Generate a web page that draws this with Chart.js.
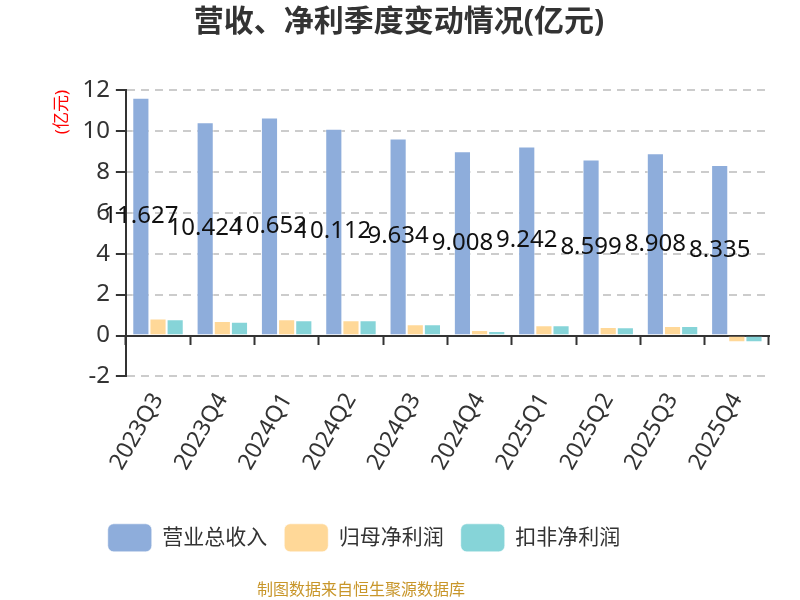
<!DOCTYPE html>
<html>
<head>
<meta charset="utf-8">
<script src="https://cdn.jsdelivr.net/npm/chart.js@4/dist/chart.umd.min.js"></script>
<style>
  html, body { margin: 0; padding: 0; background: #fff; }
  #wrap { width: 800px; height: 600px; }
</style>
</head>
<body>
<div id="wrap"><canvas id="chart"></canvas></div>
<script>
/* ── Data ── */
const quarters   = ['2023Q3', '2023Q4', '2024Q1', '2024Q2', '2024Q3', '2024Q4', '2025Q1', '2025Q2', '2025Q3', '2025Q4'];
const revenue    = [11.627, 10.424, 10.652, 10.112, 9.634, 9.008, 9.242, 8.599, 8.908, 8.335];
const netProfit  = [0.83, 0.71, 0.80, 0.75, 0.55, 0.27, 0.50, 0.42, 0.47, -0.33];
const deductProfit = [0.80, 0.68, 0.75, 0.75, 0.55, 0.22, 0.50, 0.40, 0.47, -0.33];
const yTicks     = [-2, 0, 2, 4, 6, 8, 10, 12];

const FONT = "'Noto Sans', 'Noto Sans CJK SC', sans-serif";
const COLORS = {
  blue:   '#8eaddb',
  orange: '#ffd898',
  teal:   '#86d4d8',
  axis:   '#333333',
  grid:   '#cccccc',
};

Chart.defaults.font.family = FONT;
Chart.defaults.color = '#333';

/* ── value labels on the revenue bars ── */
const barLabels = {
  id: 'barLabels',
  afterDatasetsDraw(chart) {
    const ctx = chart.ctx;
    const meta = chart.getDatasetMeta(0);
    ctx.save();
    ctx.font = '24px ' + FONT;
    ctx.fillStyle = '#111';
    ctx.textAlign = 'center';
    ctx.textBaseline = 'middle';
    meta.data.forEach((bar, i) => {
      ctx.fillText(revenue[i].toFixed(3), bar.x, (bar.y + bar.base) / 2);
    });
    ctx.restore();
  }
};

/* ── legend + footer sit left of the canvas centre, title a touch left ── */
const boxShift = {
  id: 'boxShift',
  afterLayout(chart) {
    chart.boxes.forEach(box => {
      let dx = 0;
      if (box === chart.legend) dx = -42;
      else if (box.position === 'bottom' && box.options && box.options.text) dx = -45;
      else if (box.position === 'top' && box.options && box.options.text) dx = -7;
      box.left += dx;
      box.right += dx;
    });
  }
};

const barStyle = { borderWidth: 1, borderColor: 'rgba(255,255,255,0.55)', categoryPercentage: 0.8, barPercentage: 1 };

new Chart(document.getElementById('chart'), {
  type: 'bar',
  data: {
    labels: quarters,
    datasets: [
      { label: '营业总收入', data: revenue,      backgroundColor: COLORS.blue,   ...barStyle },
      { label: '归母净利润', data: netProfit,    backgroundColor: COLORS.orange, ...barStyle },
      { label: '扣非净利润', data: deductProfit, backgroundColor: COLORS.teal,   ...barStyle },
    ]
  },
  options: {
    responsive: true,
    maintainAspectRatio: false,
    animation: false,
    layout: { padding: { left: 43, right: 31, top: 0, bottom: 0 } },
    plugins: {
      title: {
        display: true,
        text: '营收、净利季度变动情况(亿元)',
        color: '#333',
        font: { size: 30, weight: 'bold' },
        padding: { top: 4, bottom: 50 },
      },
      subtitle: {
        display: true,
        position: 'bottom',
        text: '制图数据来自恒生聚源数据库',
        color: '#c8962a',
        font: { size: 16 },
        padding: { top: 19, bottom: 0 },
      },
      legend: {
        position: 'bottom',
        labels: {
          boxWidth: 44,
          boxHeight: 28,
          useBorderRadius: true,
          borderRadius: 6,
          padding: 17,
          color: '#333',
          font: { size: 21 },
        }
      },
      tooltip: { enabled: false },
    },
    scales: {
      x: {
        offset: true,
        grid: { display: false, drawTicks: false },
        border: { display: false },
        ticks: { autoSkip: false, maxRotation: 60, minRotation: 60, padding: 12, color: '#333', font: { size: 23 } },
        afterFit: scale => { scale.height += 20; },
      },
      x2: {
        type: 'category',
        labels: quarters,
        position: { y: 0 },
        offset: true,
        grid: { offset: true, drawOnChartArea: false, tickLength: 8, tickColor: COLORS.axis, tickWidth: 2 },
        border: { display: true, color: COLORS.axis, width: 2 },
        ticks: { display: false },
      },
      y: {
        min: yTicks[0],
        max: yTicks[yTicks.length - 1],
        afterBuildTicks: scale => { scale.ticks = yTicks.map(v => ({ value: v })); },
        grid: { color: COLORS.grid, lineWidth: 2, tickLength: 10, tickColor: COLORS.axis, tickWidth: 2, tickBorderDash: [] },
        border: { display: true, color: COLORS.axis, width: 2, dash: [8, 6] },
        ticks: { padding: 6, color: '#333', font: { size: 24 } },
        title: {
          display: true,
          text: '(亿元)',
          align: 'end',
          color: 'red',
          font: { size: 17 },
          padding: { top: 9, bottom: 4 },
        },
      }
    }
  },
  plugins: [barLabels, boxShift]
});
</script>
</body>
</html>
